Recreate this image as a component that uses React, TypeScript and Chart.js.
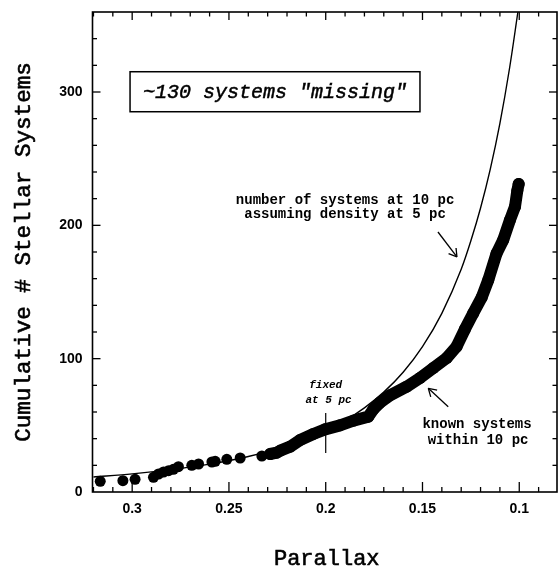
import React, { useEffect, useRef } from 'react';
import { Chart, registerables } from 'chart.js';

Chart.register(...registerables);

// Model curve: number of systems at 10 pc assuming density at 5 pc
const MODEL_PARALLAX = [0.32, 0.30, 0.28, 0.26, 0.24, 0.22, 0.20, 0.19, 0.18, 0.17, 0.16, 0.15, 0.14, 0.13, 0.125, 0.12, 0.115, 0.11, 0.105, 0.1007];
const MODEL_COUNT = [11.2, 13.6, 16.8, 20.9, 26.6, 34.6, 46, 53.6, 63.1, 74.9, 89.8, 109, 134, 167, 188.4, 213, 242, 276.5, 318, 360];

// Known systems: sparse individual points at large parallax
const SPARSE_PARALLAX = [0.3165, 0.3048, 0.2985, 0.289, 0.2864, 0.2838, 0.2812, 0.2787, 0.2761, 0.2692, 0.2657, 0.2588, 0.2571, 0.2511, 0.2442, 0.233, 0.2287, 0.2253];
const SPARSE_COUNT = [8, 8.5, 9.5, 11, 13.5, 15, 16, 17, 19, 20, 21, 22.5, 23, 24.5, 25.5, 27, 28.5, 29.5];

// Known systems: dense run of points at smaller parallax
const BAND_PARALLAX = [0.2287, 0.2253, 0.2235, 0.2184, 0.2132, 0.2064, 0.2003, 0.1926, 0.1857, 0.178, 0.1754, 0.172, 0.1668, 0.1582, 0.1513, 0.1444, 0.1375, 0.1324, 0.1281, 0.1238, 0.1194, 0.116, 0.1117, 0.1083, 0.1048, 0.1022, 0.101, 0.1003];
const BAND_COUNT = [28.5, 29.5, 31, 34, 39, 43.5, 47, 50, 53.5, 56.5, 62, 67, 72.5, 79, 85.5, 93, 100.5, 109, 122, 134, 146, 159, 179, 189, 204, 214, 226, 231];

const X_TICKS = [0.3, 0.25, 0.2, 0.15, 0.1];
const X_TICK_LABELS = ['0.3', '0.25', '0.2', '0.15', '0.1'];
const Y_TICKS = [0, 100, 200, 300];
const Y_TICK_LABELS = ['0', '100', '200', '300'];
const X_MINOR_TICKS = [0.09, 0.1, 0.11, 0.12, 0.13, 0.14, 0.15, 0.16, 0.17, 0.18, 0.19, 0.2, 0.21, 0.22, 0.23, 0.24, 0.25, 0.26, 0.27, 0.28, 0.29, 0.3, 0.31, 0.32];
const Y_MINOR_TICKS = [20, 40, 60, 80, 100, 120, 140, 160, 180, 200, 220, 240, 260, 280, 300, 320, 340];

const X_TITLE = 'Parallax';
const Y_TITLE = 'Cumulative # Stellar Systems';
const BOX_TEXT = '~130 systems "missing"';
const MODEL_LABEL = ['number of systems at 10 pc', 'assuming density at 5 pc'];
const DATA_LABEL = ['known systems', 'within 10 pc'];
const FIXED_LABEL = ['fixed', 'at 5 pc'];

const MONO = '"Liberation Mono", "DejaVu Sans Mono", monospace';

const overlayPlugin = {
  id: 'overlay',
  afterDatasetsDraw(chart: any) {
    const { ctx, chartArea, scales } = chart;
    const { left, right, top, bottom } = chartArea;
    const xs = scales.x;
    const ys = scales.y;
    const px = (v: number) => xs.getPixelForValue(v);
    const py = (v: number) => ys.getPixelForValue(v);
    const line = (x1: number, y1: number, x2: number, y2: number) => {
      ctx.beginPath();
      ctx.moveTo(x1, y1);
      ctx.lineTo(x2, y2);
      ctx.stroke();
    };
    ctx.save();
    ctx.strokeStyle = '#000';
    ctx.fillStyle = '#000';
    ctx.lineWidth = 1.6;
    ctx.strokeRect(left, top, right - left, bottom - top);

    ctx.lineWidth = 1.3;
    X_MINOR_TICKS.forEach((v) => {
      const major = X_TICKS.some((t) => Math.abs(t - v) < 1e-6);
      const len = major ? 10 : 5;
      const x = px(v);
      line(x, bottom, x, bottom - len);
      line(x, top, x, top + (major ? 8 : 4.5));
    });
    Y_MINOR_TICKS.forEach((v) => {
      const major = Y_TICKS.some((t) => Math.abs(t - v) < 1e-6);
      const len = major ? 8 : 4.5;
      const y = py(v);
      line(left, y, left + len, y);
      line(right, y, right - len, y);
    });

    // Box annotation
    ctx.lineWidth = 1.5;
    const bx1 = px(0.3011), bx2 = px(0.1513), by1 = py(315.2), by2 = py(285.2);
    ctx.strokeRect(bx1, by1, bx2 - bx1, by2 - by1);
    ctx.textAlign = 'center';
    ctx.textBaseline = 'middle';
    ctx.font = 'italic 20px ' + MONO;
    ctx.lineWidth = 0.5;
    ctx.fillText(BOX_TEXT, (bx1 + bx2) / 2, (by1 + by2) / 2 + 1);
    ctx.strokeText(BOX_TEXT, (bx1 + bx2) / 2, (by1 + by2) / 2 + 1);

    // Model label
    ctx.font = 'bold 14px ' + MONO;
    ctx.fillText(MODEL_LABEL[0], px(0.19), py(219));
    ctx.fillText(MODEL_LABEL[1], px(0.19), py(208.5));

    // Data label
    ctx.fillText(DATA_LABEL[0], px(0.1218), py(50.3));
    ctx.fillText(DATA_LABEL[1], px(0.1213), py(38.3));

    // fixed at 5 pc
    ctx.font = 'italic bold 11px ' + MONO;
    ctx.fillText(FIXED_LABEL[0], px(0.2), py(80.3));
    ctx.fillText(FIXED_LABEL[1], px(0.1985), py(69));
    ctx.lineWidth = 1.2;
    line(px(0.2), py(59.3), px(0.2), py(29.3));

    // Arrows
    const arrow = (x1: number, y1: number, x2: number, y2: number) => {
      ctx.lineWidth = 1.3;
      line(x1, y1, x2, y2);
      const ang = Math.atan2(y2 - y1, x2 - x1);
      const hl = 9;
      const spread = 0.55;
      line(x2, y2, x2 - hl * Math.cos(ang - spread), y2 - hl * Math.sin(ang - spread));
      line(x2, y2, x2 - hl * Math.cos(ang + spread), y2 - hl * Math.sin(ang + spread));
    };
    arrow(px(0.142), py(195), px(0.1322), py(176.3));
    arrow(px(0.1367), py(64), px(0.147), py(77.8));

    ctx.restore();
  },
  afterDraw(chart: any) {
    const { ctx, chartArea } = chart;
    const { left, right, top, bottom } = chartArea;
    ctx.save();
    ctx.fillStyle = '#000';
    ctx.strokeStyle = '#000';
    ctx.lineWidth = 0.6;
    ctx.textAlign = 'center';
    ctx.textBaseline = 'middle';
    ctx.font = '22px ' + MONO;
    ctx.fillText(X_TITLE, (left + right) / 2 + 2, 559);
    ctx.strokeText(X_TITLE, (left + right) / 2 + 2, 559);
    ctx.font = '22.6px ' + MONO;
    ctx.translate(24, (top + bottom) / 2);
    ctx.rotate(-Math.PI / 2);
    ctx.fillText(Y_TITLE, 0, 0);
    ctx.strokeText(Y_TITLE, 0, 0);
    ctx.restore();
  },
};

export default function App() {
  const canvasRef = useRef<HTMLCanvasElement | null>(null);

  useEffect(() => {
    const canvas = canvasRef.current;
    if (!canvas) return;
    const toPts = (xs: number[], ys: number[]) => xs.map((x, i) => ({ x, y: ys[i] }));
    const tickFont = { family: '"Liberation Sans", Arial, sans-serif', weight: 'bold' as const, size: 14 };
    const chart = new Chart(canvas, {
      type: 'scatter',
      data: {
        datasets: [
          {
            label: 'known systems (dense)',
            data: toPts(BAND_PARALLAX, BAND_COUNT),
            showLine: true,
            borderColor: '#000',
            backgroundColor: '#000',
            borderWidth: 12,
            borderJoinStyle: 'round',
            borderCapStyle: 'round',
            pointRadius: 6,
            pointBorderWidth: 0,
            pointBackgroundColor: '#000',
            order: 0,
          } as any,
          {
            label: 'known systems',
            data: toPts(SPARSE_PARALLAX, SPARSE_COUNT),
            showLine: false,
            pointRadius: 5.5,
            pointBorderWidth: 0,
            pointBackgroundColor: '#000',
            order: 0,
          } as any,
          {
            label: 'model',
            data: toPts(MODEL_PARALLAX, MODEL_COUNT),
            showLine: true,
            borderColor: '#000',
            borderWidth: 1.4,
            pointRadius: 0,
            cubicInterpolationMode: 'monotone',
            order: 1,
          } as any,
        ],
      },
      options: {
        responsive: false,
        animation: false,
        layout: { autoPadding: false, padding: { left: 0, right: 1, top: 12, bottom: 0 } },
        plugins: {
          legend: { display: false },
          tooltip: { enabled: false },
          title: { display: false },
        },
        scales: {
          x: {
            type: 'linear',
            reverse: true,
            min: 0.0805,
            max: 0.3205,
            grid: { display: false, drawTicks: false },
            border: { display: false },
            afterBuildTicks: (scale: any) => {
              scale.ticks = X_TICKS.map((v) => ({ value: v }));
            },
            afterFit: (scale: any) => {
              scale.height = 79;
              scale.paddingLeft = 0;
              scale.paddingRight = 0;
              scale.paddingTop = 0;
              scale.paddingBottom = 0;
            },
            ticks: {
              autoSkip: false,
              maxRotation: 0,
              minRotation: 0,
              padding: 9,
              color: '#000',
              font: tickFont,
              callback: (v: any) => {
                const i = X_TICKS.findIndex((t) => Math.abs(t - Number(v)) < 1e-6);
                return i >= 0 ? X_TICK_LABELS[i] : '';
              },
            },
          },
          y: {
            type: 'linear',
            min: 0,
            max: 360,
            grid: { display: false, drawTicks: false },
            border: { display: false },
            afterBuildTicks: (scale: any) => {
              scale.ticks = Y_TICKS.map((v) => ({ value: v }));
            },
            afterFit: (scale: any) => {
              scale.width = 92.5;
              scale.paddingLeft = 0;
              scale.paddingRight = 0;
              scale.paddingTop = 0;
              scale.paddingBottom = 0;
            },
            ticks: {
              autoSkip: false,
              padding: 10,
              color: '#000',
              font: tickFont,
              callback: (v: any) => {
                const i = Y_TICKS.findIndex((t) => Math.abs(t - Number(v)) < 1e-6);
                return i >= 0 ? Y_TICK_LABELS[i] : '';
              },
            },
          },
        },
      },
      plugins: [overlayPlugin],
    });
    return () => chart.destroy();
  }, []);

  return (
    <div style={{ position: 'absolute', left: 0, top: 0, width: 558, height: 571, background: '#fff' }}>
      <canvas ref={canvasRef} width={558} height={571} style={{ display: 'block' }} />
    </div>
  );
}
